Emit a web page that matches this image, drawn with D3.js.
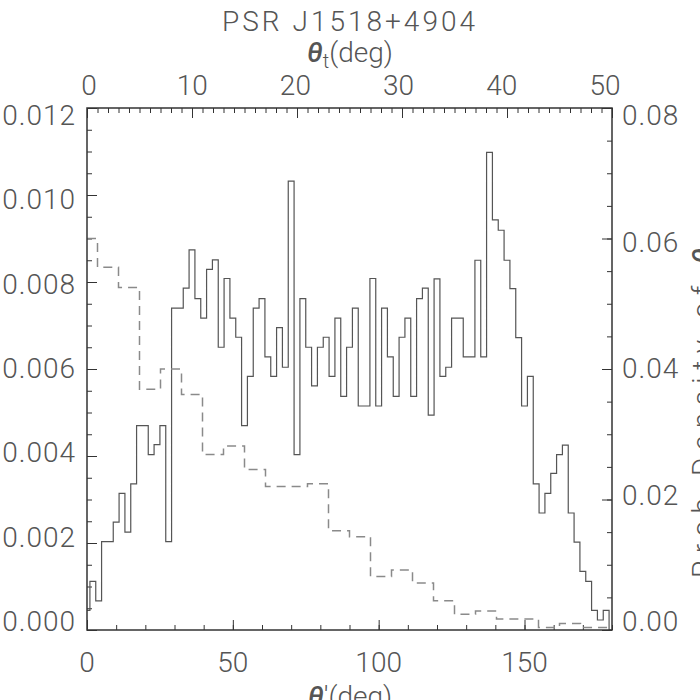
<!DOCTYPE html>
<head>
<meta charset="utf-8">
<title>PSR J1518+4904</title>
<script src="https://d3js.org/d3.v7.min.js"></script>
<style>
body { margin: 0; background: #fff; overflow: hidden; }
svg { display: block; }
svg text { font-family: Roboto, "Liberation Sans", sans-serif; font-weight: 300; fill: #555; }
</style>
</head>
<body>
<div id="container"></div>
<script>

// solid histogram: probability density of theta' (bin centres in deg, values x 1e-3, left axis)
const thetaPrime = [0, 2, 4, 6, 8, 10, 12, 14, 16, 18, 20, 22, 24, 26, 28, 30, 32, 34, 36, 38,
  40, 42, 44, 46, 48, 50, 52, 54, 56, 58, 60, 62, 64, 66, 68, 70, 72, 74, 76, 78,
  80, 82, 84, 86, 88, 90, 92, 94, 96, 98, 100, 102, 104, 106, 108, 110, 112, 114, 116, 118,
  120, 122, 124, 126, 128, 130, 132, 134, 136, 138, 140, 142, 144, 146, 148, 150, 152, 154, 156, 158,
  160, 162, 164, 166, 168, 170, 172, 174, 176, 178, 180]
const densThetaPrime = [0.45, 1.12, 0.67, 2.03, 2.03, 2.48, 3.14, 2.25, 3.36, 4.70, 4.70, 4.03, 4.26, 4.70, 2.03, 7.40, 7.40, 7.86, 8.74, 7.62,
  7.17, 8.29, 8.51, 6.50, 8.08, 7.17, 6.73, 4.70, 5.83, 7.40, 7.62, 6.28, 5.83, 6.95, 6.04, 10.32, 4.03, 7.62, 6.50, 5.61,
  6.50, 6.73, 5.83, 7.17, 5.37, 6.50, 7.40, 5.15, 5.15, 8.08, 5.15, 7.40, 6.28, 5.37, 6.73, 7.17, 5.37, 7.62, 7.86, 4.94,
  8.07, 5.83, 6.04, 7.17, 7.17, 6.28, 6.28, 8.50, 6.28, 10.98, 9.43, 9.19, 8.50, 7.85, 6.72, 5.15, 5.83, 3.36, 2.69, 3.14,
  3.60, 4.03, 4.25, 2.69, 2.02, 1.35, 1.12, 0.45, 0.23, 0.45, 0]

// dashed histogram: probability density of theta_t (bin centres in deg, values x 1e-2, right axis)
const thetaT = [0, 2, 4, 6, 8, 10, 12, 14, 16, 18, 20, 22, 24, 26, 28, 30, 32, 34, 36, 38, 40, 42, 44, 46, 48, 50]
const densThetaT = [6.00, 5.56, 5.25, 3.69, 4.00, 3.61, 2.69, 2.82, 2.46, 2.20, 2.20, 2.24, 1.52, 1.43, 0.82, 0.92, 0.72,
  0.45, 0.24, 0.29, 0.17, 0.17, 0.04, 0.10, 0.04, 0.04]

const leftTicks = [0, 0.002, 0.004, 0.006, 0.008, 0.010, 0.012]
const rightTicks = [0, 0.02, 0.04, 0.06, 0.08]
const bottomTicks = [0, 50, 100, 150]
const topTicks = [0, 10, 20, 30, 40, 50]

const width = 700, height = 700
const margin = {top: 108, right: 88, bottom: 70, left: 87}
const fontSize = 28

const svg = d3.select("div#container").append("svg")
    .attr("width", width).attr("height", height)
    .attr("viewBox", [0, 0, width, height])

const x = d3.scaleLinear().domain([0, 180]).range([margin.left, width - margin.right])
const xt = d3.scaleLinear().domain([0, 50]).range([margin.left, width - margin.right])
const yL = d3.scaleLinear().domain([0, 0.012]).range([height - margin.bottom, margin.top])
const yR = d3.scaleLinear().domain([0, 0.08]).range([height - margin.bottom, margin.top])

// the tick labels of the original sit on a slightly tighter grid than the ticks
const yLabL = d3.scaleLinear().domain([0, 0.012]).range([621, 115])
const yLabR = d3.scaleLinear().domain([0, 0.08]).range([621, 115])
const xtLab = d3.scaleLinear().domain([0, 50]).range([89, 605])

// IDL psym=10 style step outline: steps halfway between centres, half bins at the ends
function steps(xs, ys) {
  const pts = []
  const n = xs.length
  for (let i = 0; i < n; i++) {
    const l = i === 0 ? xs[0] : (xs[i - 1] + xs[i]) / 2
    const r = i === n - 1 ? xs[n - 1] : (xs[i] + xs[i + 1]) / 2
    pts.push([l, ys[i]], [r, ys[i]])
  }
  return pts
}

const ticks = (axis, scale, vals, size, pos) => svg.append("g").attr("transform", pos)
    .call(axis(scale).tickValues(vals).tickSize(size).tickFormat(""))
    .call(g => g.select(".domain").remove())
    .call(g => g.selectAll(".tick line").attr("stroke", "#333"))

// minor ticks
ticks(d3.axisLeft, yL, d3.range(0, 0.01201, 0.0005), -5, `translate(${margin.left},0)`)
ticks(d3.axisRight, yR, d3.range(0, 0.0801, 0.005), -5, `translate(${width - margin.right},0)`)
ticks(d3.axisBottom, x, d3.range(0, 181, 10), -5, `translate(0,${height - margin.bottom})`)
ticks(d3.axisTop, xt, d3.range(0, 51, 1), -5, `translate(0,${margin.top})`)

// major ticks
ticks(d3.axisLeft, yL, leftTicks, -10, `translate(${margin.left},0)`)
ticks(d3.axisRight, yR, rightTicks, -10, `translate(${width - margin.right},0)`)
ticks(d3.axisBottom, x, bottomTicks, -10, `translate(0,${height - margin.bottom})`)
ticks(d3.axisTop, xt, topTicks, -10, `translate(0,${margin.top})`)

// tick labels
const labels = svg.append("g").attr("font-size", fontSize)

labels.selectAll("text.l").data(leftTicks).join("text").attr("class", "l")
    .attr("x", 76).attr("y", d => yLabL(d)).attr("dy", "0.36em")
    .attr("text-anchor", "end").attr("letter-spacing", 1)
    .text(d3.format(".3f"))

labels.selectAll("text.r").data(rightTicks).join("text").attr("class", "r")
    .attr("x", 622).attr("y", d => yLabR(d)).attr("dy", "0.36em")
    .attr("letter-spacing", 1)
    .text(d3.format(".2f"))

labels.selectAll("text.b").data(bottomTicks).join("text").attr("class", "b")
    .attr("x", d => x(d)).attr("y", 672)
    .attr("text-anchor", "middle")
    .text(d => d)

labels.selectAll("text.t").data(topTicks).join("text").attr("class", "t")
    .attr("x", d => xtLab(d)).attr("y", 95)
    .attr("text-anchor", "middle")
    .text(d => d)

// histograms
const line = d3.line()

svg.append("path")
    .attr("fill", "none").attr("stroke", "#555").attr("stroke-width", 1.2)
    .attr("d", line(steps(thetaPrime, densThetaPrime).map(d => [x(d[0]), yL(d[1] / 1000)])))

svg.append("path")
    .attr("fill", "none").attr("stroke", "#8a8a8a").attr("stroke-width", 1.5)
    .attr("stroke-dasharray", "9,6")
    .attr("d", line(steps(thetaT, densThetaT).map(d => [xt(d[0]), yR(d[1] / 100)])))

// frame
svg.append("rect")
    .attr("x", margin.left).attr("y", margin.top)
    .attr("width", width - margin.left - margin.right)
    .attr("height", height - margin.top - margin.bottom)
    .attr("fill", "none").attr("stroke", "#333").attr("stroke-width", 1.5)

// titles
svg.append("text").attr("x", 350).attr("y", 31).attr("text-anchor", "middle")
    .attr("font-size", fontSize).attr("letter-spacing", 3).text("PSR J1518+4904")

const tt = svg.append("text").attr("x", 350).attr("y", 62).attr("text-anchor", "middle")
    .attr("font-size", fontSize)
tt.append("tspan").attr("font-style", "italic").attr("font-weight", 500).text("θ")
tt.append("tspan").attr("font-size", 20).attr("dy", 6).text("t")
tt.append("tspan").attr("dy", -6).text("(deg)")

const bt = svg.append("text").attr("x", 350).attr("y", 706).attr("text-anchor", "middle")
    .attr("font-size", fontSize)
bt.append("tspan").attr("font-style", "italic").attr("font-weight", 500).text("θ")
bt.append("tspan").text("'(deg)")

const rt = svg.append("text")
    .attr("transform", `translate(712,578) rotate(-90)`)
    .attr("font-size", fontSize).attr("letter-spacing", 7.5)
rt.append("tspan").text("Prob Density of ")
rt.append("tspan").attr("font-style", "italic").attr("font-weight", 500).text("θ")
rt.append("tspan").attr("font-size", 20).attr("dy", 6).text("t")

</script>
</body>
